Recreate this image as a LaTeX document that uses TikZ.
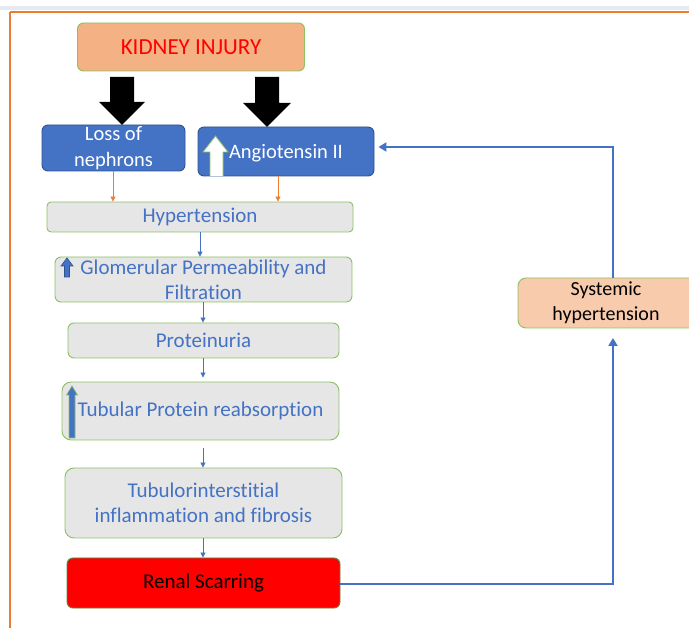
\documentclass[tikz,border=0pt]{standalone}
\usepackage{fontspec}
\setmainfont{Carlito}[Ligatures=NoCommon]
\usetikzlibrary{arrows.meta,calc}
\definecolor{salmon}{HTML}{F4B183}
\definecolor{peach}{HTML}{F8CBAD}
\definecolor{msblue}{HTML}{4472C4}
\definecolor{dkblue}{HTML}{2F528F}
\definecolor{msgreen}{HTML}{8CC063}
\definecolor{lgray}{HTML}{E6E6E6}
\definecolor{msorange}{HTML}{ED7D31}
\definecolor{bandgray}{HTML}{E6EAEE}
\tikzset{
  base/.style={rounded corners=6pt, inner sep=0pt, align=center, font=\fontsize{21}{25}\selectfont},
  gbox/.style={base, draw=msgreen, line width=0.9pt, fill=lgray, text=msblue},
  bbox/.style={base, draw=dkblue, line width=0.9pt, fill=msblue, text=white},
  oarrow/.style={draw=msorange, line width=0.8pt, -{Triangle[width=5pt,length=5pt]}},
  barrow/.style={draw=msblue, line width=0.8pt, -{Triangle[width=5pt,length=5pt]}},
  fbarrow/.style={draw=msblue, line width=2.4pt, -{Triangle[width=9pt,length=8pt]}},
  blockarrow/.style={fill=black},
  upicon/.style={fill=msblue, draw=dkblue, line width=0.6pt},
}
\begin{document}
\begin{tikzpicture}[x=1pt,y=-1pt]
\useasboundingbox (0,0) rectangle (689,628);
% frame
\fill[bandgray] (0,6) rectangle (689,10);
\draw[msorange, line width=2.4pt] (10,12) -- (689,12);
\draw[msorange, line width=2.4pt] (10,12) -- (10,628);

% nodes
\node[base, draw=msgreen, line width=0.9pt, fill=salmon, text=red, minimum width=227pt, minimum height=48pt, font=\fontsize{23}{26}\selectfont] (ki) at (191,47) {KIDNEY INJURY};
\node[bbox, minimum width=143pt, minimum height=46pt, font=\fontsize{20.5}{26}\selectfont] (loss) at (113.5,148) {Loss of\\nephrons};
\node[bbox, minimum width=176pt, minimum height=49pt] (ang) at (286,151.5) {};
\node[base, text=white, anchor=center, font=\fontsize{20.5}{25}\selectfont] (angt) at (286,153) {Angiotensin II};
\node[gbox, rounded corners=4pt, minimum width=306pt, minimum height=30pt] (hyp) at (200,217) {Hypertension};
\node[gbox, minimum width=297pt, minimum height=45pt] (glom) at (203.5,279.5) {Glomerular Permeability and\\Filtration};
\node[gbox, minimum width=271pt, minimum height=35pt] (prot) at (203.5,340.5) {Proteinuria};
\node[gbox, rounded corners=9pt, minimum width=277pt, minimum height=58pt] (tub) at (200.5,411) {Tubular Protein reabsorption};
\node[gbox, rounded corners=9pt, minimum width=277pt, minimum height=70pt] (tif) at (203.5,503) {Tubulorinterstitial\\inflammation and fibrosis};
\node[base, draw=msgreen!70!black, line width=0.9pt, fill=red, text=black, minimum width=273pt, minimum height=50pt] (renal) at (203.5,583) {Renal Scarring};
\node[base, rounded corners=8pt, draw=msgreen, line width=0.9pt, fill=peach, text=black, minimum width=182pt, minimum height=50pt, text width=150pt, font=\fontsize{20}{25}\selectfont] (sys) at (609,303) {\hspace*{-6pt}Systemic\\\hspace*{-6pt}hypertension};

% block arrows from kidney injury
\fill[blockarrow] (110,77) -- (134,77) -- (134,102) -- (145,102) -- (122,125) -- (99,102) -- (110,102) -- cycle;
\fill[blockarrow] (255,77) -- (279,77) -- (279,103) -- (291,103) -- (267,127) -- (243,103) -- (255,103) -- cycle;

% white up arrow in angiotensin box
\draw[fill=white, draw=msgreen, line width=0.8pt] (210,176) -- (210,152) -- (203,152) -- (215.5,136) -- (228,152) -- (223,152) -- (223,176);

% icons
\draw[upicon] (64.5,277) -- (64.5,266) -- (61,266) -- (67,258) -- (73,266) -- (69.5,266) -- (69.5,277) -- cycle;
\draw[upicon, draw=msgreen] (69,438) -- (69,395) -- (66.5,395) -- (72,386) -- (77.5,395) -- (75,395) -- (75,438) -- cycle;

% column coordinates
\coordinate (c113) at (113,0);
\coordinate (c278) at (278,0);
\coordinate (c200) at (200,0);
\coordinate (c203) at (203,0);
\coordinate (c613) at (613,0);
\coordinate (turn1) at (613,584);
\coordinate (turn2) at (613,147);
\coordinate (sysin) at (613,338);

% orange arrows
\draw[oarrow] (c113 |- loss.south) -- (c113 |- hyp.north);
\draw[oarrow] (c278 |- ang.south) -- (c278 |- hyp.north);

% blue thin arrows
\draw[barrow] (c200 |- hyp.south) -- (c200 |- glom.north);
\draw[barrow] (c203 |- glom.south) -- (c203 |- prot.north);
\draw[barrow] (c203 |- prot.south) -- ($(c203 |- tub.north)+(0,-4)$);
\draw[barrow] ($(c203 |- tub.south)+(0,8)$) -- (c203 |- tif.north);
\draw[barrow] (c203 |- tif.south) -- (c203 |- renal.north);

% feedback loop
\draw[fbarrow] (renal.east |- turn1) -- (turn1) -- (sysin);
\draw[fbarrow] (sys.north -| c613) -- (turn2) -- ($(ang.east |- turn2)+(4,0)$);
\end{tikzpicture}
\end{document}
